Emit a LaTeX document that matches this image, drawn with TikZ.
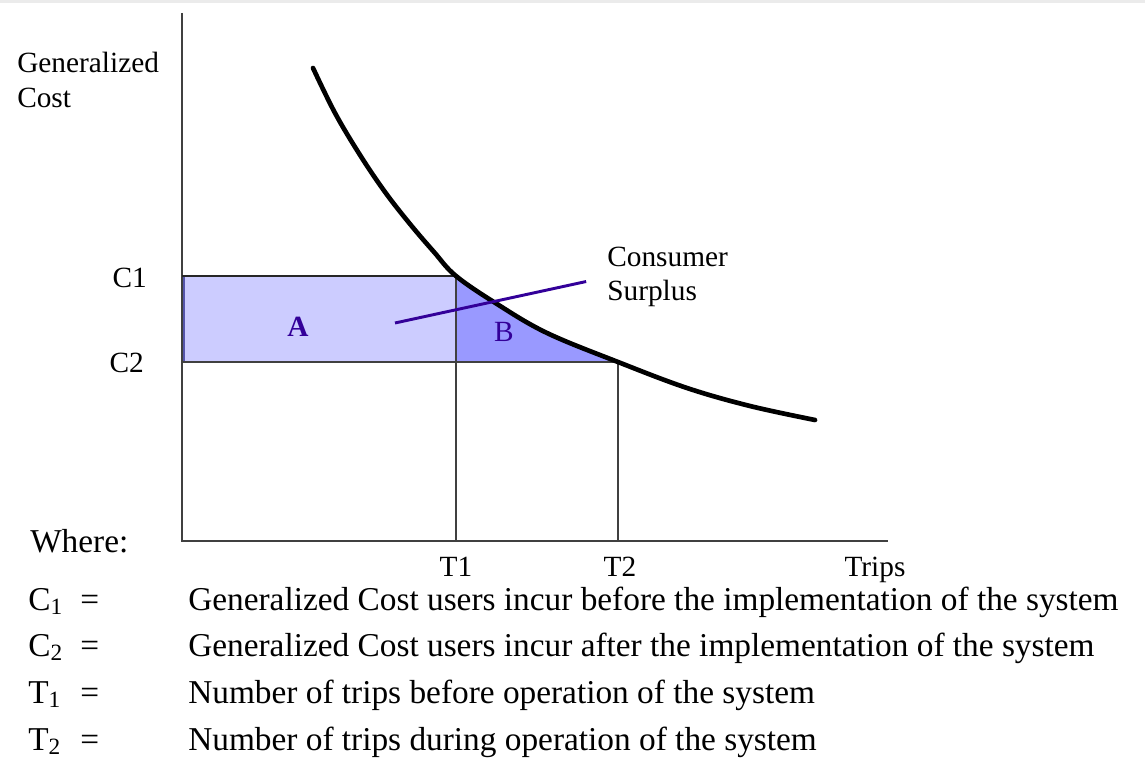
\documentclass[tikz,border=0pt]{standalone}
\usepackage{fontspec}
\setmainfont{Liberation Serif}
\usepackage{tikz}
\definecolor{areaA}{HTML}{CCCCFF}
\definecolor{areaB}{HTML}{9999FF}
\definecolor{areaEdge}{HTML}{5555AA}
\definecolor{surplus}{HTML}{330099}

\begin{document}
\begin{tikzpicture}[x=0.75pt,y=-0.75pt,
        lbl/.style={font=\fontsize{22}{26}\selectfont, inner sep=0pt},
        legend/.style={font=\fontsize{25}{29}\selectfont, inner sep=0pt, anchor=base west},
        thinline/.style={line width=1.1pt, draw=black!75},
        demand/.style={line width=3.5pt, line cap=round, line join=round},
        leader/.style={line width=2.2pt, draw=surplus},
    ]
        \useasboundingbox (0,0) rectangle (1145,762);
        \fill[black!8] (0,0) rectangle (1145,3);
        \coordinate (o) at (182,541);
        \coordinate (ytop) at (182,13);
        \coordinate (xend) at (888,541);
        \coordinate (c1) at (182,276);
        \coordinate (c2) at (182,362);
        \coordinate (p1) at (456,276);
        \coordinate (p2) at (618,362);
        \coordinate (q1) at (456,362);
        \coordinate (t1) at (456,541);
        \coordinate (t2) at (618,541);
        \coordinate (leadend) at (395,323);
        \fill[areaA] (185,276) rectangle (q1);
        \fill[areaB] plot[smooth] coordinates {(456,276) (497,304) (547,333) (618,362)} -- (q1) -- cycle;
        \draw[line width=1.5pt, draw=areaEdge] (184,277) -- (184,362);
        \draw[thinline] (ytop) -- (o) -- (xend);
        \draw[thinline] (p1) -- (t1);
        \draw[thinline] (p2) -- (t2);
        \draw[thinline] (c2) -- (p2);
        \draw[line width=1.8pt, draw=black!85] (c1) -- (p1);
        \draw[demand] plot[smooth, tension=0.6] coordinates {(313,68) (335,113) (360,155) (385,192) (410,224) (434,252) (456,276) (497,304) (547,333) (618,362) (687,388) (750,406) (815,420)};
        \node[lbl, anchor=west, align=left] (gcost) at (17,80) {Generalized\\Cost};
        \node[lbl, anchor=base east] (lc1) at (147,288) {C1};
        \node[lbl, anchor=base east] (lc2) at (144,373) {C2};
        \node[lbl, anchor=base] (lt1) at (456,576) {T1};
        \node[lbl, anchor=base] (lt2) at (620,576) {T2};
        \node[lbl, anchor=base] (ltrips) at (875,576) {Trips};
        \node[lbl, anchor=base, text=surplus, font=\fontsize{22}{26}\selectfont\bfseries] (la) at (298,337) {A};
        \node[lbl, anchor=base, text=surplus] (lb) at (504,342) {B};
        \node[lbl, anchor=west, align=left] (cs) at (607,277) {Consumer\\Surplus};
        \draw[leader, shorten >=16pt] (leadend) -- (cs.west);
        \node[legend] (where) at (30,552) {Where:};
        \node[legend] (s1) at (28,610) {C\textsubscript{1}};
        \node[legend] (e1) at (80,610) {=};
        \node[legend] (d1) at (188,610) {Generalized Cost users incur before the implementation of the system};
        \node[legend] (s2) at (28,656) {C\textsubscript{2}};
        \node[legend] (e2) at (80,656) {=};
        \node[legend] (d2) at (188,656) {Generalized Cost users incur after the implementation of the system};
        \node[legend] (s3) at (28,703) {T\textsubscript{1}};
        \node[legend] (e3) at (80,703) {=};
        \node[legend] (d3) at (188,703) {Number of trips before operation of the system};
        \node[legend] (s4) at (28,750) {T\textsubscript{2}};
        \node[legend] (e4) at (80,750) {=};
        \node[legend] (d4) at (188,750) {Number of trips during operation of the system};
    \end{tikzpicture}
\end{document}
